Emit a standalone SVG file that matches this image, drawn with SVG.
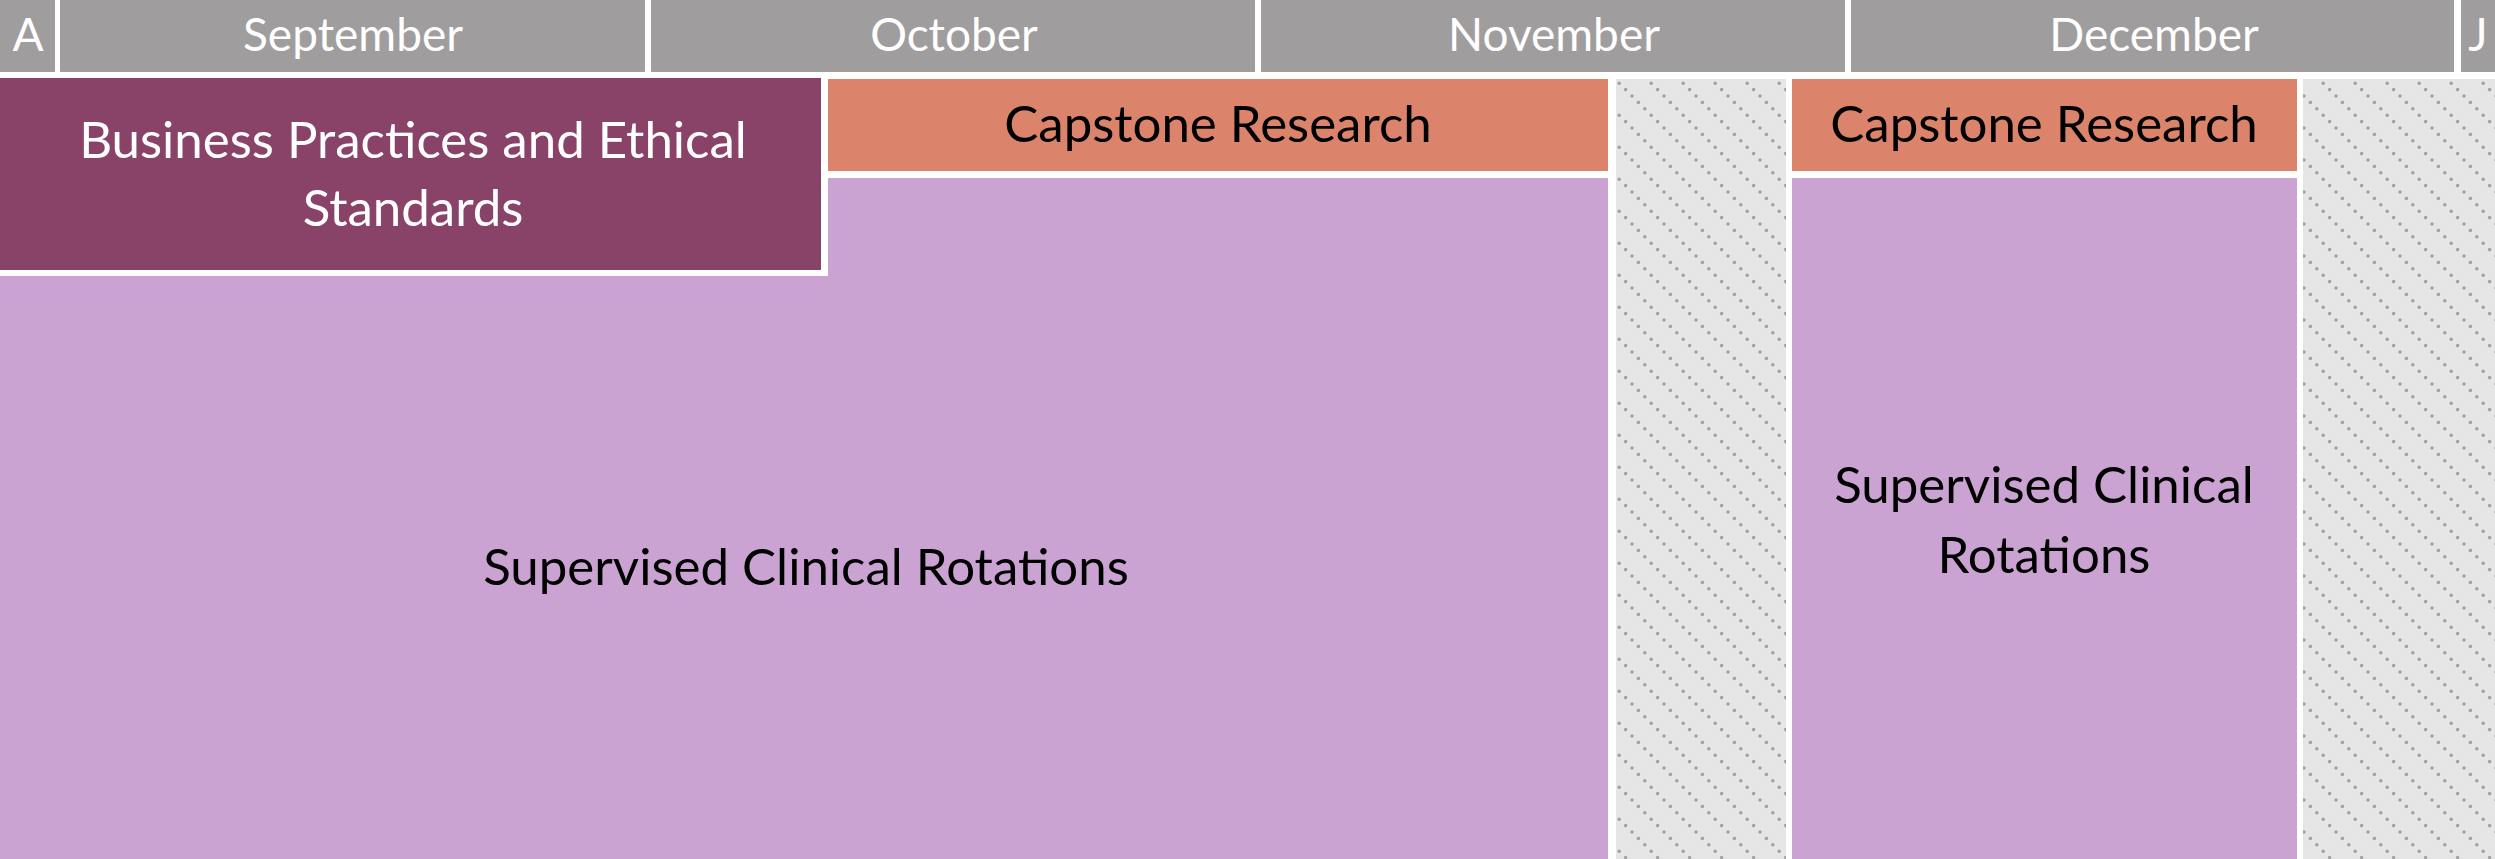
<svg xmlns="http://www.w3.org/2000/svg" width="2495" height="859" viewBox="0 0 2495 859">
<style>
.hdr{fill:#a09d9e}
.hdrt{fill:#ffffff;font-family:Lato,"Open Sans",sans-serif;font-size:46px;text-anchor:middle}
.t{font-family:Lato,"Open Sans",sans-serif;font-size:51px;text-anchor:middle}
.dark{fill:#8a4368}
.orange{fill:#dc846b}
.light{fill:#caa3d2}
.hatch{fill:url(#hp)}
</style>
<defs>
<pattern id="hp" patternUnits="userSpaceOnUse" width="32" height="32">
<rect width="32" height="32" fill="#e6e6e6"/>
<g fill="#a3a3a3">
<circle cx="0" cy="0" r="1.8"/>
<circle cx="6.4" cy="6.4" r="1.8"/>
<circle cx="12.8" cy="12.8" r="1.8"/>
<circle cx="19.2" cy="19.2" r="1.8"/>
<circle cx="25.6" cy="25.6" r="1.8"/>
<circle cx="32" cy="32" r="1.8"/>
<circle cx="32" cy="0" r="1.8"/>
<circle cx="0" cy="32" r="1.8"/>
</g>
</pattern>
</defs>
<rect width="2495" height="859" fill="#ffffff"/>
<g id="header">
<g id="m-a"><rect class="hdr" x="0" y="0" width="55" height="72"/><text class="hdrt" x="28" y="51">A</text></g>
<g id="m-sep"><rect class="hdr" x="60" y="0" width="585" height="72"/><text class="hdrt" x="353" y="51">September</text></g>
<g id="m-oct"><rect class="hdr" x="651" y="0" width="604" height="72"/><text class="hdrt" x="954" y="51">October</text></g>
<g id="m-nov"><rect class="hdr" x="1261" y="0" width="584" height="72"/><text class="hdrt" x="1554" y="51">November</text></g>
<g id="m-dec"><rect class="hdr" x="1851" y="0" width="603" height="72"/><text class="hdrt" x="2154" y="51">December</text></g>
<g id="m-j"><rect class="hdr" x="2461" y="0" width="34" height="72"/><text class="hdrt" x="2478" y="51">J</text></g>
</g>
<g id="clinical-1">
<path class="light" d="M0,276 H828 V178 H1608 V859 H0 Z"/>
<text class="t" x="806" y="585" fill="#000000">Supervised Clinical Rotations</text>
</g>
<g id="business">
<rect class="dark" x="0" y="78" width="821" height="192"/>
<text class="t" x="413" y="158" fill="#ffffff">Business Practices and Ethical</text>
<text class="t" x="413" y="226" fill="#ffffff">Standards</text>
</g>
<g id="capstone-1">
<rect class="orange" x="828" y="79" width="780" height="92"/>
<text class="t" x="1218" y="142" fill="#000000">Capstone Research</text>
</g>
<g id="break-1"><rect class="hatch" x="1616" y="79" width="170" height="780"/></g>
<g id="capstone-2">
<rect class="orange" x="1792" y="79" width="505" height="92"/>
<text class="t" x="2044" y="142" fill="#000000">Capstone Research</text>
</g>
<g id="clinical-2">
<rect class="light" x="1792" y="178" width="505" height="681"/>
<text class="t" x="2044" y="503" fill="#000000">Supervised Clinical</text>
<text class="t" x="2044" y="573" fill="#000000">Rotations</text>
</g>
<g id="break-2"><rect class="hatch" x="2303" y="79" width="192" height="780"/></g>
<g id="connectors"></g>
</svg>
